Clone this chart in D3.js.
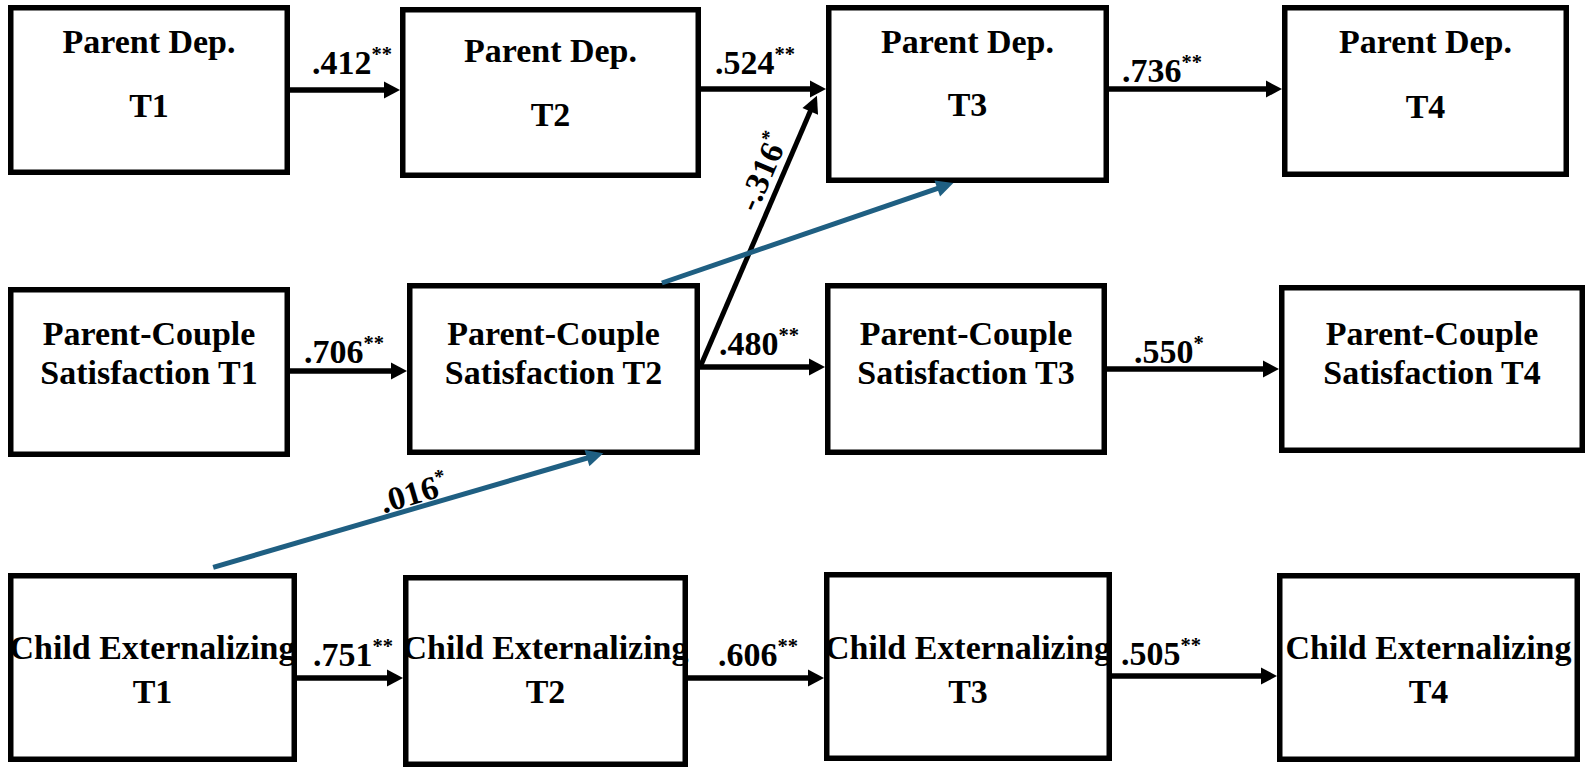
<!DOCTYPE html>
<html><head><meta charset="utf-8">
<script src="https://cdn.jsdelivr.net/npm/d3@7"></script>
<style>html,body{margin:0;padding:0;background:#fff;} svg{display:block;background:#fff;}</style>
</head><body><svg id="c" width="1591" height="774"></svg>
<script>
// ---------- DATA ----------
const constructs = ["Parent Dep.", "Parent-Couple Satisfaction", "Child Externalizing"];
const waves = ["T1", "T2", "T3", "T4"];
// autoregressive (stability) paths, per construct, between successive waves
const stabilityCoefs = [[".412", ".524", ".736"], [".706", ".480", ".550"], [".751", ".606", ".505"]];
const stabilitySig   = [["**", "**", "**"], ["**", "**", "*"], ["**", "**", "**"]];
// cross-lagged paths [construct index, wave index]
const crossFrom  = [[1, 1], [1, 1], [2, 0]];
const crossTo    = [[0, 2], [0, 2], [1, 1]];
const crossCoefs = ["-.316", "", ".016"];
const crossSig   = ["*", "", "*"];

// ---------- LAYOUT / STYLE ----------
const W = 1591, H = 774;
const boxEdges = [ // [left, top, right, bottom]
  [[8, 5, 290, 175], [400, 7, 701, 178], [826, 5, 1109, 183], [1282, 5, 1569, 177]],
  [[8, 287, 290, 457], [407, 283, 700, 455], [825, 283, 1107, 455], [1279, 285, 1585, 453]],
  [[8, 573, 297, 762], [403, 575, 688, 767], [824, 572, 1112, 761], [1277, 573, 1580, 762]]
];
const textBaselines = [
  [[53, 117], [62, 126], [53, 116], [53, 118]],
  [[345, 384], [345, 384], [345, 384], [345, 384]],
  [[659, 703], [659, 703], [659, 703], [659, 703]]
];
const arrowY = [[90, 89, 89], [371, 367, 369], [678, 678, 676]];
const coefDx = [[22, 14, 13], [14, 19, 27], [16, 30, 9]];
const coefDy = [[-16, -15, -7], [-8, -12, -6], [-12, -12, -11]];
// cross-path anchors as fractions of box width/height
const crossStart = [[1, 0.49], [0.87, 0], [0.71, -0.03]];
const crossEnd   = [[-0.032, 0.51], [0.45, 1], [0.67, 0.99]];
const crossStroke = ["#000000", "#1f5f82", "#1f5f82"];
const crossLabelT = [0.69, 0.5, 0.525];
const crossLabelGap = [9, 0, 4];

const FONT = "'Liberation Serif','Times New Roman',Times,serif";
const BORDER = 5.5;

const svg = d3.select("#c");
svg.append("rect").attr("width", W).attr("height", H).attr("fill", "#fff");

const x = d3.scaleIdentity().domain([0, W]);
const y = d3.scaleIdentity().domain([0, H]);

function boxLines(r, w) {
  const name = constructs[r];
  if (r === 1) {
    const parts = name.split(" ");
    return [parts[0], parts.slice(1).join(" ") + " " + waves[w]];
  }
  return [name, waves[w]];
}

function arrow(g, x1, y1, x2, y2, color, sw, hl, hw) {
  const dx = x2 - x1, dy = y2 - y1, L = Math.hypot(dx, dy), ux = dx / L, uy = dy / L;
  const bx = x2 - ux * hl, by = y2 - uy * hl;
  g.append("line")
    .attr("x1", x(x1)).attr("y1", y(y1))
    .attr("x2", x(bx + ux * 2)).attr("y2", y(by + uy * 2))
    .attr("stroke", color).attr("stroke-width", sw);
  g.append("path")
    .attr("d", `M${x(x2)},${y(y2)}L${x(bx - uy * hw)},${y(by + ux * hw)}L${x(bx + uy * hw)},${y(by - ux * hw)}Z`)
    .attr("fill", color);
}

// ---------- BOXES ----------
const boxData = [];
constructs.forEach((c, r) => waves.forEach((wv, w) => boxData.push({ r, w, e: boxEdges[r][w] })));

const boxes = svg.append("g").selectAll("g").data(boxData).join("g");
boxes.append("rect")
  .attr("x", d => x(d.e[0] + BORDER / 2))
  .attr("y", d => y(d.e[1] + BORDER / 2))
  .attr("width", d => d.e[2] - d.e[0] - BORDER)
  .attr("height", d => d.e[3] - d.e[1] - BORDER)
  .attr("fill", "none").attr("stroke", "#000").attr("stroke-width", BORDER);

boxes.each(function (d) {
  const g = d3.select(this);
  const cx = (d.e[0] + d.e[2]) / 2;
  boxLines(d.r, d.w).forEach((line, i) => {
    g.append("text")
      .attr("transform", `translate(${x(cx)},${y(textBaselines[d.r][d.w][i])}) scale(1.03,1)`)
      .attr("text-anchor", "middle")
      .attr("font-family", FONT).attr("font-weight", "bold").attr("font-size", 33)
      .attr("fill", "#000")
      .text(line);
  });
});

// ---------- STABILITY PATHS ----------
const arrows = svg.append("g");
stabilityCoefs.forEach((row, r) => row.forEach((coef, i) => {
  const a = boxEdges[r][i], b = boxEdges[r][i + 1];
  const yy = arrowY[r][i];
  arrow(arrows, a[2], yy, b[0], yy, "#000", 5.5, 16, 8.5);
  const t = arrows.append("text")
    .attr("transform", `translate(${x(a[2] + coefDx[r][i])},${y(yy + coefDy[r][i])}) scale(1.03,1)`)
    .attr("font-family", FONT).attr("font-weight", "bold").attr("fill", "#000");
  t.append("tspan").attr("font-size", 33).text(coef);
  t.append("tspan").attr("font-size", 20).attr("dy", -13).text(stabilitySig[r][i]);
}));

// ---------- CROSS-LAGGED PATHS ----------
crossFrom.forEach((f, k) => {
  const s = boxEdges[f[0]][f[1]], e = boxEdges[crossTo[k][0]][crossTo[k][1]];
  const x1 = s[0] + crossStart[k][0] * (s[2] - s[0]), y1 = s[1] + crossStart[k][1] * (s[3] - s[1]);
  const x2 = e[0] + crossEnd[k][0] * (e[2] - e[0]), y2 = e[1] + crossEnd[k][1] * (e[3] - e[1]);
  arrow(arrows, x1, y1, x2, y2, crossStroke[k], 5, 17, 8.5);
  if (crossCoefs[k]) {
    const tt = crossLabelT[k];
    const px = x1 + (x2 - x1) * tt, py = y1 + (y2 - y1) * tt;
    const ang = Math.atan2(y2 - y1, x2 - x1) * 180 / Math.PI;
    const t = arrows.append("text")
      .attr("transform", `translate(${x(px)},${y(py)}) rotate(${ang}) scale(1.03,1)`)
      .attr("y", -crossLabelGap[k])
      .attr("text-anchor", "middle")
      .attr("font-family", FONT).attr("font-weight", "bold").attr("fill", "#000");
    t.append("tspan").attr("font-size", 33).text(crossCoefs[k]);
    t.append("tspan").attr("font-size", 20).attr("dy", -13).text(crossSig[k]);
  }
});
</script>
</body></html>
